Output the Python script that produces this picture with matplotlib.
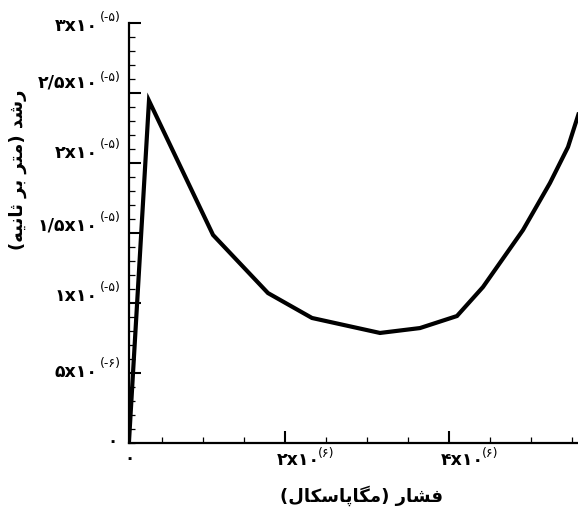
import matplotlib
matplotlib.use("Agg")
import matplotlib.pyplot as plt
from matplotlib.ticker import MultipleLocator

plt.rcParams["font.family"] = ["DejaVu Sans"]

# Crack growth rate versus pressure
pressure = [0.1e6, 0.345e6, 1.126e6, 1.796e6, 2.333e6, 3.162e6, 3.65e6,
            4.101e6, 4.418e6, 4.906e6, 5.235e6, 5.455e6, 5.6e6]
growth = [0.0, 24.45e-6, 14.86e-6, 10.71e-6, 8.93e-6, 7.86e-6, 8.21e-6,
          9.07e-6, 11.14e-6, 15.21e-6, 18.57e-6, 21.14e-6, 23.8e-6]

y_ticks = [5e-6, 1e-5, 1.5e-5, 2e-5, 2.5e-5, 3e-5]
y_tick_main = ["۵x۱۰", "۱x۱۰", "۱/۵x۱۰", "۲x۱۰", "۲/۵x۱۰", "۳x۱۰"]
y_tick_sup = ["(-۶)", "(-۵)", "(-۵)", "(-۵)", "(-۵)", "(-۵)"]
x_ticks = [2e6, 4e6]
x_tick_main = ["۲x۱۰", "۴x۱۰"]
x_tick_sup = ["(۶)", "(۶)"]

# Persian labels written in visual (right-to-left) order with joined letter forms
x_label = "(\uFEDD\uFE8E\uFB91\uFEB3\uFE8E\uFB58\uFE8E\uFB95\uFEE3) \uFEAD\uFE8E\uFEB8\uFED3"
y_label = ("(\uFEEA\uFEF4\uFEE7\uFE8E\uFE9B \uFEAE\uFE91 \uFEAE\uFE98\uFEE3) "
           "\uFEAA\uFEB7\uFEAD")

W, H = 578, 515
fig = plt.figure(figsize=(W / 100, H / 100), dpi=100)
x0, x1, y0, y1 = 128.9, 578, 443, 23
ax = fig.add_axes([x0 / W, (H - y0) / H, (x1 - x0) / W, (y0 - y1) / H])

ax.plot(pressure, growth, color="black", lw=3, solid_joinstyle="miter",
        solid_capstyle="butt")

ax.set_xlim(0.1e6, 5.577e6)
ax.set_ylim(0, 3e-5)
for s in ("top", "right"):
    ax.spines[s].set_visible(False)
for s in ("left", "bottom"):
    ax.spines[s].set_linewidth(1.6)

ax.set_yticks(y_ticks)
ax.set_xticks(x_ticks)
ax.yaxis.set_minor_locator(MultipleLocator(1e-6))
ax.xaxis.set_minor_locator(MultipleLocator(0.5e6))
ax.tick_params(which="major", direction="in", length=8.3, width=1.5,
               labelleft=False, labelbottom=False)
ax.tick_params(which="minor", direction="in", length=4.5, width=0.9)

# vertical nudge of each y label (pixels, positive up)
y_nudge = [1, 7, 8, 10, 10, -3]
sup_rise = [8, 8, 8, 8, 5, 8]
for v, m, s, n, r in zip(y_ticks, y_tick_main, y_tick_sup, y_nudge, sup_rise):
    ax.annotate(m, xy=(0, v), xycoords=("axes fraction", "data"),
                xytext=(-31, n), textcoords="offset pixels",
                ha="right", va="center", fontsize=12.5, fontweight="bold")
    ax.annotate(s, xy=(0, v), xycoords=("axes fraction", "data"),
                xytext=(-29, n + r), textcoords="offset pixels",
                ha="left", va="center", fontsize=9)

for v, m, s in zip(x_ticks, x_tick_main, x_tick_sup):
    ax.annotate(m, xy=(v, 0), xycoords=("data", "axes fraction"),
                xytext=(-8, -17), textcoords="offset pixels",
                ha="left", va="center", fontsize=12.5, fontweight="bold")
    ax.annotate(s, xy=(v, 0), xycoords=("data", "axes fraction"),
                xytext=(33, -10), textcoords="offset pixels",
                ha="left", va="center", fontsize=9)

ax.annotate("۰", xy=(0, 0), xycoords="axes fraction", xytext=(-16, 2),
            textcoords="offset pixels", ha="center", va="center",
            fontsize=12, fontweight="bold")
ax.annotate("۰", xy=(0, 0), xycoords="axes fraction", xytext=(1, -15),
            textcoords="offset pixels", ha="center", va="center",
            fontsize=12, fontweight="bold")

fig.text(362 / W, 1 - 496 / H, x_label, ha="center", va="center",
         fontsize=13, fontweight="bold")
fig.text(18 / W, 1 - 170 / H, y_label, ha="center", va="center",
         rotation=90, fontsize=13, fontweight="bold")

fig.savefig("out.png", dpi=100, facecolor="white")
